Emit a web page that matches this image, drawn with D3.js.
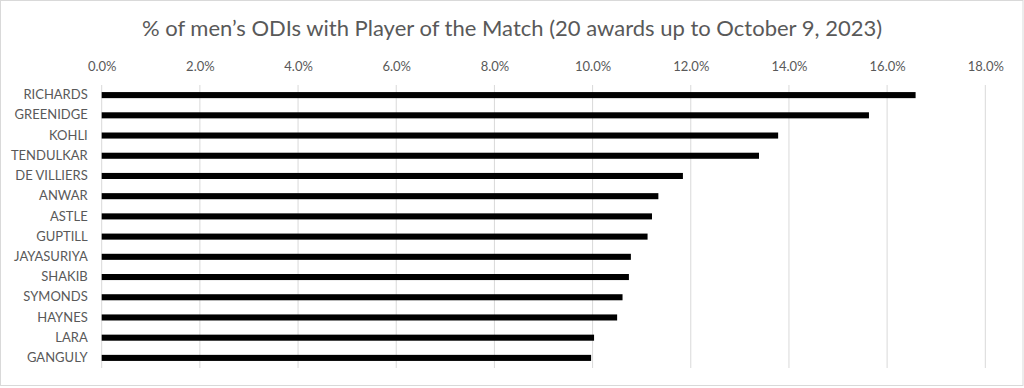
<!DOCTYPE html>
<html>
<head>
<meta charset="utf-8">
<script src="https://cdn.jsdelivr.net/npm/d3@7"></script>
<style>
  body { margin: 0; background: #fff; }
  text { font-family: Lato, "Open Sans", sans-serif; fill: #595959; }
</style>
</head>
<body>
<script>
const players = ["RICHARDS", "GREENIDGE", "KOHLI", "TENDULKAR", "DE VILLIERS", "ANWAR", "ASTLE",
  "GUPTILL", "JAYASURIYA", "SHAKIB", "SYMONDS", "HAYNES", "LARA", "GANGULY"]
const pct = [16.58, 15.63, 13.78, 13.39, 11.84, 11.34, 11.21, 11.12, 10.78, 10.74, 10.61, 10.50, 10.03, 9.97]
const ticks = [0, 2, 4, 6, 8, 10, 12, 14, 16, 18]
const title = "% of men\u2019s ODIs with Player of the Match (20 awards up to October 9, 2023)"

const dims = { w: 1024, h: 388, pl: 101.7, pr: 1024 - 985.3, pt: 85, pb: 388 - 368 }

const svg = d3.select("body")
  .append("svg")
  .attr("width", dims.w)
  .attr("height", dims.h)

// chart area border
svg.append("rect")
  .attr("x", 0.5).attr("y", 0.5)
  .attr("width", dims.w - 1.5).attr("height", 385)
  .attr("fill", "#fff")
  .attr("stroke", "#d9d9d9")

const xScale = d3.scaleLinear()
  .domain([0, 18])
  .range([dims.pl, dims.w - dims.pr])

const yScale = d3.scaleBand()
  .domain(players)
  .range([dims.pt, dims.h - dims.pb])
  .paddingInner(0.7)
  .paddingOuter(0.35)

// gridlines
svg.append("g")
  .selectAll("line")
  .data(ticks)
  .enter()
  .append("line")
  .attr("x1", d => xScale(d)).attr("x2", d => xScale(d))
  .attr("y1", dims.pt).attr("y2", dims.h - dims.pb)
  .attr("stroke", "#d9d9d9")
  .attr("stroke-width", 1)

const xAxis = d3.axisTop(xScale)
  .tickValues(ticks)
  .tickFormat(d => d.toFixed(1) + "%")
  .tickSize(0)
  .tickPadding(0)

svg.append("g")
  .attr("transform", `translate(0, 71)`)
  .call(xAxis)
  .call(g => g.select(".domain").remove())
  .call(g => g.selectAll("text").attr("font-size", 13).attr("fill", "#595959"))

const yAxis = d3.axisLeft(yScale)
  .tickSize(0)
  .tickPadding(14)

svg.append("g")
  .attr("transform", `translate(${dims.pl}, 0)`)
  .call(yAxis)
  .call(g => g.select(".domain").remove())
  .call(g => g.selectAll("text").attr("font-size", 13).attr("fill", "#595959"))

svg.append("g")
  .selectAll("rect")
  .data(players)
  .enter()
  .append("rect")
  .attr("x", xScale(0))
  .attr("y", d => yScale(d))
  .attr("height", yScale.bandwidth())
  .attr("width", (d, i) => xScale(pct[i]) - xScale(0))
  .attr("fill", "#000")

svg.append("text")
  .attr("x", 512)
  .attr("y", 36)
  .attr("text-anchor", "middle")
  .attr("font-size", 22)
  .text(title)
</script>
</body>
</html>
